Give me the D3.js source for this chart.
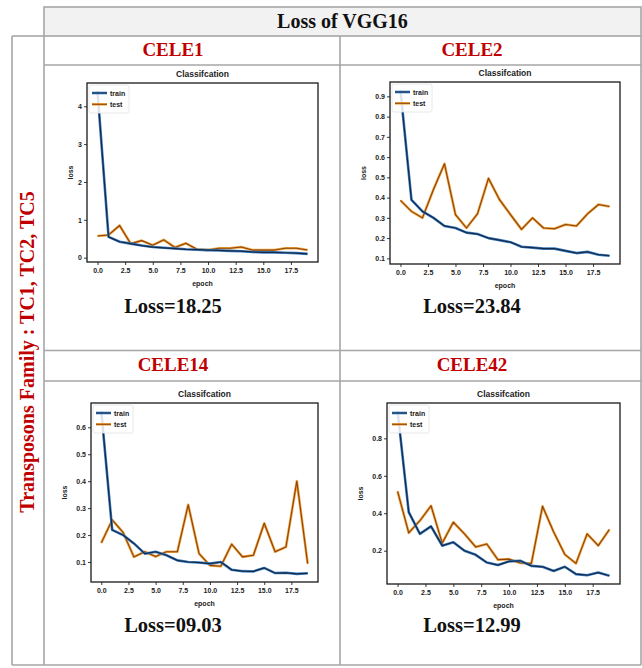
<!DOCTYPE html>
<html><head><meta charset="utf-8">
<script src="https://cdn.jsdelivr.net/npm/d3@7/dist/d3.min.js"></script>
<style>body{margin:0;background:#fff}svg{display:block}</style>
</head><body>
<svg id="c" width="642" height="668"></svg>
<script>
// ---------- data ----------
const headerTitle = "Loss of VGG16";
const sideLabel = "Transposons Family : TC1, TC2, TC5";
const panelNames = ["CELE1", "CELE2", "CELE14", "CELE42"];
const lossLabels = ["Loss=18.25", "Loss=23.84", "Loss=09.03", "Loss=12.99"];
const chartTitle = "Classifcation";
const seriesNames = ["train", "test"];
const epochs = [0,1,2,3,4,5,6,7,8,9,10,11,12,13,14,15,16,17,18,19];
const xTicks = [0, 2.5, 5, 7.5, 10, 12.5, 15, 17.5];

const trainCELE1 = [4.40,0.55,0.42,0.37,0.32,0.28,0.26,0.24,0.22,0.21,0.20,0.19,0.18,0.17,0.15,0.14,0.14,0.13,0.12,0.10];
const testCELE1  = [0.57,0.60,0.85,0.37,0.45,0.33,0.47,0.27,0.38,0.22,0.20,0.25,0.25,0.28,0.20,0.20,0.20,0.25,0.25,0.20];
const yTicksCELE1 = [0,1,2,3,4];

const trainCELE2 = [0.93,0.389,0.332,0.30,0.26,0.25,0.227,0.22,0.20,0.19,0.18,0.157,0.153,0.148,0.148,0.137,0.126,0.132,0.118,0.113];
const testCELE2  = [0.386,0.332,0.30,0.44,0.567,0.316,0.25,0.32,0.495,0.39,0.316,0.243,0.30,0.25,0.246,0.267,0.26,0.32,0.366,0.356];
const yTicksCELE2 = [0.1,0.2,0.3,0.4,0.5,0.6,0.7,0.8,0.9];

const trainCELE14 = [0.66,0.219,0.20,0.169,0.131,0.138,0.125,0.106,0.10,0.098,0.094,0.10,0.071,0.066,0.065,0.078,0.059,0.06,0.056,0.058];
const testCELE14  = [0.171,0.256,0.21,0.119,0.138,0.12,0.138,0.138,0.3125,0.131,0.0875,0.084,0.166,0.119,0.125,0.244,0.138,0.156,0.40,0.094];
const yTicksCELE14 = [0.1,0.2,0.3,0.4,0.5,0.6];

const trainCELE42 = [0.945,0.406,0.29,0.33,0.227,0.245,0.20,0.178,0.137,0.123,0.143,0.146,0.119,0.114,0.092,0.114,0.075,0.069,0.083,0.066];
const testCELE42  = [0.517,0.295,0.36,0.44,0.24,0.352,0.29,0.22,0.236,0.152,0.155,0.134,0.132,0.437,0.30,0.18,0.132,0.29,0.227,0.313];
const yTicksCELE42 = [0.2,0.4,0.6,0.8];

const trains = [trainCELE1, trainCELE2, trainCELE14, trainCELE42];
const tests = [testCELE1, testCELE2, testCELE14, testCELE42];
const yTickSets = [yTicksCELE1, yTicksCELE2, yTicksCELE14, yTicksCELE42];

// ---------- layout ----------
const svg = d3.select("#c");
const gridColor = "#a6a6a6";
const serif = "'Liberation Serif','Times New Roman',serif";
const sans = "'Liberation Sans',Arial,sans-serif";

// table
svg.append("rect").attr("x",44).attr("y",7).attr("width",597).attr("height",29)
  .attr("fill","#f2f2f2").attr("stroke",gridColor).attr("stroke-width",1.6);
const tableLines = [
  [12,36,44,36],[12,36,12,665],[44,36,44,665],[641,36,641,665],[340,36,340,665],
  [44,65,641,65],[44,350.5,641,350.5],[44,381,641,381],[12,665,641,665]
];
svg.append("g").selectAll("line").data(tableLines).join("line")
  .attr("x1",d=>d[0]).attr("y1",d=>d[1]).attr("x2",d=>d[2]).attr("y2",d=>d[3])
  .attr("stroke",gridColor).attr("stroke-width",1.6);

svg.append("text").attr("x",342.5).attr("y",28).attr("text-anchor","middle")
  .attr("font-family",serif).attr("font-weight","bold").attr("font-size",20)
  .attr("fill","#111").text(headerTitle);

svg.append("text").attr("transform","translate(34,352) rotate(-90)")
  .attr("text-anchor","middle").attr("font-family",serif).attr("font-weight","bold")
  .attr("font-size",20).attr("fill","#c00000").text(sideLabel);

const cells = [
  {cx:173, titleY:56,  lossY:313, box:{x0:87, x1:318, y0:83, y1:262}},
  {cx:472, titleY:56,  lossY:313, box:{x0:390,x1:620, y0:82, y1:264}},
  {cx:173, titleY:370.5, lossY:632, box:{x0:91, x1:318, y0:403,y1:582}},
  {cx:472, titleY:370.5, lossY:632, box:{x0:387,x1:620, y0:403,y1:584}}
];

cells.forEach((c,i)=>{
  svg.append("text").attr("x",c.cx).attr("y",c.titleY).attr("text-anchor","middle")
    .attr("font-family",serif).attr("font-weight","bold").attr("font-size",19)
    .attr("fill","#c00000").text(panelNames[i]);
  svg.append("text").attr("x",c.cx).attr("y",c.lossY).attr("text-anchor","middle")
    .attr("font-family",serif).attr("font-weight","bold").attr("font-size",20.5)
    .attr("fill","#111").text(lossLabels[i]);

  const b = c.box;
  const all = trains[i].concat(tests[i]);
  const [mn,mx] = d3.extent(all);
  const r = mx-mn;
  const x = d3.scaleLinear().domain([-0.95,19.95]).range([b.x0,b.x1]);
  const y = d3.scaleLinear().domain([mn-0.05*r, mx+0.05*r]).range([b.y1,b.y0]);
  const g = svg.append("g");

  const line = d3.line().x((d,k)=>x(epochs[k])).y(d=>y(d));
  // test
  g.append("path").datum(tests[i]).attr("d",line).attr("fill","none")
    .attr("stroke","#f2a43a").attr("stroke-width",2.6).attr("stroke-linejoin","round");
  g.append("path").datum(tests[i]).attr("d",line).attr("fill","none")
    .attr("stroke","#8a4412").attr("stroke-width",1.1).attr("stroke-linejoin","round");
  // train
  g.append("path").datum(trains[i]).attr("d",line).attr("fill","none")
    .attr("stroke","#3b7dc0").attr("stroke-width",2.6).attr("stroke-linejoin","round");
  g.append("path").datum(trains[i]).attr("d",line).attr("fill","none")
    .attr("stroke","#142848").attr("stroke-width",1.2).attr("stroke-linejoin","round");

  // legend
  const lg = g.append("g").attr("transform",`translate(${b.x0+2},${b.y0+2})`);
  lg.append("rect").attr("width",40).attr("height",28).attr("rx",2)
    .attr("fill","#fff").attr("fill-opacity",0.85).attr("stroke","#e2e2e2").attr("stroke-width",0.8);
  const lcol = [["#3b7dc0","#142848"],["#f2a43a","#8a4412"]];
  seriesNames.forEach((s,k)=>{
    const yy = 8+k*11.3;
    lg.append("line").attr("x1",3).attr("x2",18).attr("y1",yy).attr("y2",yy)
      .attr("stroke",lcol[k][0]).attr("stroke-width",2.6);
    lg.append("line").attr("x1",3).attr("x2",18).attr("y1",yy).attr("y2",yy)
      .attr("stroke",lcol[k][1]).attr("stroke-width",1);
    lg.append("text").attr("x",21).attr("y",yy+2.5).attr("font-family",sans)
      .attr("font-weight","bold").attr("font-size",7).attr("fill","#222").text(s);
  });

  // axes
  const fmtY = i===0 ? d3.format("d") : d3.format(".1f");
  const ya = g.append("g").attr("transform",`translate(${b.x0},0)`)
    .call(d3.axisLeft(y).tickValues(yTickSets[i]).tickFormat(fmtY).tickSize(3).tickPadding(2));
  const xa = g.append("g").attr("transform",`translate(0,${b.y1})`)
    .call(d3.axisBottom(x).tickValues(xTicks).tickFormat(d3.format(".1f")).tickSize(3).tickPadding(3));
  [ya,xa].forEach(a=>{
    a.select(".domain").remove();
    a.selectAll("line").attr("stroke","#222").attr("stroke-width",0.9);
    a.selectAll("text").attr("font-family",sans).attr("font-weight","bold")
      .attr("font-size",7).attr("fill","#222");
  });
  g.append("rect").attr("x",b.x0).attr("y",b.y0).attr("width",b.x1-b.x0).attr("height",b.y1-b.y0)
    .attr("fill","none").attr("stroke","#1a1a1a").attr("stroke-width",1.3);

  g.append("text").attr("x",(b.x0+b.x1)/2).attr("y",b.y0-6).attr("text-anchor","middle")
    .attr("font-family",sans).attr("font-weight","600").attr("font-size",8.5).attr("fill","#222").text(chartTitle);
  g.append("text").attr("x",(b.x0+b.x1)/2).attr("y",b.y1+23.5).attr("text-anchor","middle")
    .attr("font-family",sans).attr("font-weight","600").attr("font-size",7).attr("fill","#222").text("epoch");
  const ylx = i===0 ? b.x0-14 : b.x0-24;
  g.append("text").attr("transform",`translate(${ylx},${(b.y0+b.y1)/2}) rotate(-90)`)
    .attr("text-anchor","middle").attr("font-family",sans).attr("font-weight","600")
    .attr("font-size",7).attr("fill","#222").text("loss");
});
</script>
</body></html>
